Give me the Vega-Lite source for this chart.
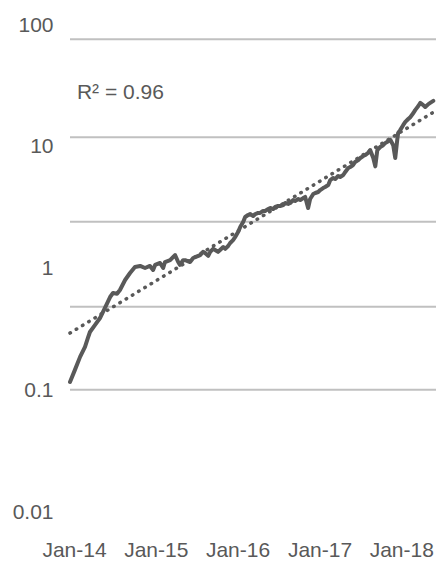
{
  "$schema": "https://vega.github.io/schema/vega-lite/v6.json",
  "autosize": {"type": "none"},
  "padding": {"left": 70, "top": 25, "right": 7, "bottom": 57},
  "width": 366,
  "height": 487,
  "background": "white",
  "config": {
    "view": {"stroke": null},
    "axis": {"domain": false, "ticks": false, "grid": false, "labelColor": "#595959", "labelFont": "Liberation Sans", "labelFontSize": 21, "labelOverlap": false, "labelFlush": false, "title": null}
  },
  "datasets": {
    "grid": [{"g": 76.3}, {"g": 11.96}, {"g": 2.42}, {"g": 0.486}, {"g": 0.101}],
    "trend": [{"d": "2013-12-14", "v": 0.295}, {"d": "2018-05-24", "v": 19.2}],
    "label": [{"d": "2014-01-14", "v": 27.6, "t": "R² = 0.96"}],
    "series": [
      {"d": "2013-12-14", "v": 0.117}, {"d": "2014-01-05", "v": 0.147}, {"d": "2014-01-28", "v": 0.188},
      {"d": "2014-02-19", "v": 0.227}, {"d": "2014-03-04", "v": 0.269}, {"d": "2014-03-13", "v": 0.301},
      {"d": "2014-04-05", "v": 0.344}, {"d": "2014-04-27", "v": 0.392}, {"d": "2014-05-19", "v": 0.474},
      {"d": "2014-06-11", "v": 0.583}, {"d": "2014-06-24", "v": 0.629}, {"d": "2014-07-12", "v": 0.62},
      {"d": "2014-07-25", "v": 0.666}, {"d": "2014-08-17", "v": 0.805}, {"d": "2014-09-08", "v": 0.918},
      {"d": "2014-09-30", "v": 1.03}, {"d": "2014-10-23", "v": 1.05}, {"d": "2014-11-14", "v": 1.01},
      {"d": "2014-12-06", "v": 1.05}, {"d": "2014-12-20", "v": 0.972}, {"d": "2014-12-29", "v": 1.07},
      {"d": "2015-01-20", "v": 1.11}, {"d": "2015-02-03", "v": 1.01}, {"d": "2015-02-11", "v": 1.13},
      {"d": "2015-03-06", "v": 1.17}, {"d": "2015-03-19", "v": 1.24}, {"d": "2015-03-28", "v": 1.29},
      {"d": "2015-04-11", "v": 1.13}, {"d": "2015-04-19", "v": 1.07}, {"d": "2015-05-03", "v": 1.17},
      {"d": "2015-05-12", "v": 1.17}, {"d": "2015-06-03", "v": 1.13}, {"d": "2015-06-17", "v": 1.22},
      {"d": "2015-06-26", "v": 1.24}, {"d": "2015-07-18", "v": 1.29}, {"d": "2015-07-31", "v": 1.37},
      {"d": "2015-08-09", "v": 1.34}, {"d": "2015-08-23", "v": 1.27}, {"d": "2015-09-01", "v": 1.37},
      {"d": "2015-09-14", "v": 1.45}, {"d": "2015-09-23", "v": 1.42}, {"d": "2015-10-06", "v": 1.37},
      {"d": "2015-10-15", "v": 1.42}, {"d": "2015-10-29", "v": 1.5}, {"d": "2015-11-07", "v": 1.45},
      {"d": "2015-11-20", "v": 1.53}, {"d": "2015-11-29", "v": 1.62}, {"d": "2015-12-12", "v": 1.71},
      {"d": "2015-12-21", "v": 1.81}, {"d": "2016-01-04", "v": 2.0}, {"d": "2016-01-13", "v": 2.19},
      {"d": "2016-01-26", "v": 2.41}, {"d": "2016-02-04", "v": 2.65}, {"d": "2016-02-17", "v": 2.75},
      {"d": "2016-02-26", "v": 2.8}, {"d": "2016-03-11", "v": 2.7}, {"d": "2016-03-20", "v": 2.8},
      {"d": "2016-04-02", "v": 2.86}, {"d": "2016-04-11", "v": 2.86}, {"d": "2016-04-24", "v": 2.97},
      {"d": "2016-05-03", "v": 2.97}, {"d": "2016-05-17", "v": 3.08}, {"d": "2016-05-26", "v": 3.14},
      {"d": "2016-06-08", "v": 3.08}, {"d": "2016-06-17", "v": 3.2}, {"d": "2016-06-30", "v": 3.26},
      {"d": "2016-07-09", "v": 3.26}, {"d": "2016-07-23", "v": 3.32}, {"d": "2016-08-01", "v": 3.45},
      {"d": "2016-08-14", "v": 3.39}, {"d": "2016-08-23", "v": 3.45}, {"d": "2016-09-05", "v": 3.65},
      {"d": "2016-09-14", "v": 3.59}, {"d": "2016-09-28", "v": 3.72}, {"d": "2016-10-07", "v": 3.65},
      {"d": "2016-10-20", "v": 3.79}, {"d": "2016-10-29", "v": 3.87}, {"d": "2016-11-11", "v": 3.14},
      {"d": "2016-11-20", "v": 3.72}, {"d": "2016-12-04", "v": 4.09}, {"d": "2016-12-13", "v": 4.17},
      {"d": "2016-12-26", "v": 4.25}, {"d": "2017-01-04", "v": 4.41}, {"d": "2017-01-17", "v": 4.58},
      {"d": "2017-01-26", "v": 4.67}, {"d": "2017-02-09", "v": 4.85}, {"d": "2017-02-18", "v": 5.33},
      {"d": "2017-03-03", "v": 5.54}, {"d": "2017-03-12", "v": 5.43}, {"d": "2017-03-25", "v": 5.75},
      {"d": "2017-04-03", "v": 5.64}, {"d": "2017-04-17", "v": 5.86}, {"d": "2017-04-26", "v": 6.21},
      {"d": "2017-05-09", "v": 6.69}, {"d": "2017-05-18", "v": 6.82}, {"d": "2017-05-31", "v": 7.08},
      {"d": "2017-06-09", "v": 7.5}, {"d": "2017-06-23", "v": 7.78}, {"d": "2017-07-02", "v": 8.08},
      {"d": "2017-07-15", "v": 8.39}, {"d": "2017-07-24", "v": 8.55}, {"d": "2017-08-06", "v": 8.89},
      {"d": "2017-08-15", "v": 9.4}, {"d": "2017-08-29", "v": 8.08}, {"d": "2017-09-07", "v": 6.9},
      {"d": "2017-09-16", "v": 9.4}, {"d": "2017-09-29", "v": 9.95}, {"d": "2017-10-12", "v": 10.3},
      {"d": "2017-10-21", "v": 10.7}, {"d": "2017-11-04", "v": 11.1}, {"d": "2017-11-13", "v": 11.4},
      {"d": "2017-11-26", "v": 10.3}, {"d": "2017-12-05", "v": 8.08}, {"d": "2017-12-14", "v": 11.4},
      {"d": "2017-12-18", "v": 13.0}, {"d": "2017-12-27", "v": 13.7}, {"d": "2018-01-10", "v": 15.1},
      {"d": "2018-01-19", "v": 16.0}, {"d": "2018-02-01", "v": 16.9}, {"d": "2018-02-10", "v": 17.5},
      {"d": "2018-02-24", "v": 18.9}, {"d": "2018-03-04", "v": 20.0}, {"d": "2018-03-18", "v": 21.6},
      {"d": "2018-03-27", "v": 22.9}, {"d": "2018-04-09", "v": 22.0}, {"d": "2018-04-18", "v": 21.2},
      {"d": "2018-05-02", "v": 22.4}, {"d": "2018-05-10", "v": 22.9}, {"d": "2018-05-24", "v": 23.8}
    ]
  },
  "encoding": {
    "x": {
      "field": "d", "type": "temporal",
      "scale": {"type": "utc", "domain": [{"year": 2013, "month": 12, "date": 14, "utc": true}, {"year": 2018, "month": 6, "date": 5, "utc": true}], "nice": false},
      "axis": {"values": [
        {"year": 2014, "month": 1, "date": 1, "utc": true},
        {"year": 2015, "month": 1, "date": 1, "utc": true},
        {"year": 2016, "month": 1, "date": 1, "utc": true},
        {"year": 2017, "month": 1, "date": 1, "utc": true},
        {"year": 2018, "month": 1, "date": 1, "utc": true}
      ], "format": "%b-%y", "labelAngle": 0, "labelPadding": 27}
    },
    "y": {
      "field": "v", "type": "quantitative",
      "scale": {"type": "log", "domain": [0.01, 100], "nice": false},
      "axis": {"values": [0.01, 0.1, 1, 10, 100], "format": "~g", "labelPadding": 17}
    }
  },
  "layer": [
    {
      "data": {"name": "grid"},
      "mark": {"type": "rule", "color": "#c0c0c0", "strokeWidth": 2},
      "encoding": {"x": null, "y": {"field": "g", "type": "quantitative"}}
    },
    {
      "data": {"name": "series"},
      "mark": {"type": "line", "color": "#595959", "strokeWidth": 4, "strokeJoin": "round", "strokeCap": "round"}
    },
    {
      "data": {"name": "trend"},
      "mark": {"type": "line", "color": "#595959", "strokeWidth": 3.5, "strokeDash": [0.5, 6.8], "strokeCap": "round"}
    },
    {
      "data": {"name": "label"},
      "mark": {"type": "text", "align": "left", "baseline": "middle", "font": "Liberation Sans", "fontSize": 21, "color": "#595959"},
      "encoding": {"text": {"field": "t"}}
    }
  ]
}
